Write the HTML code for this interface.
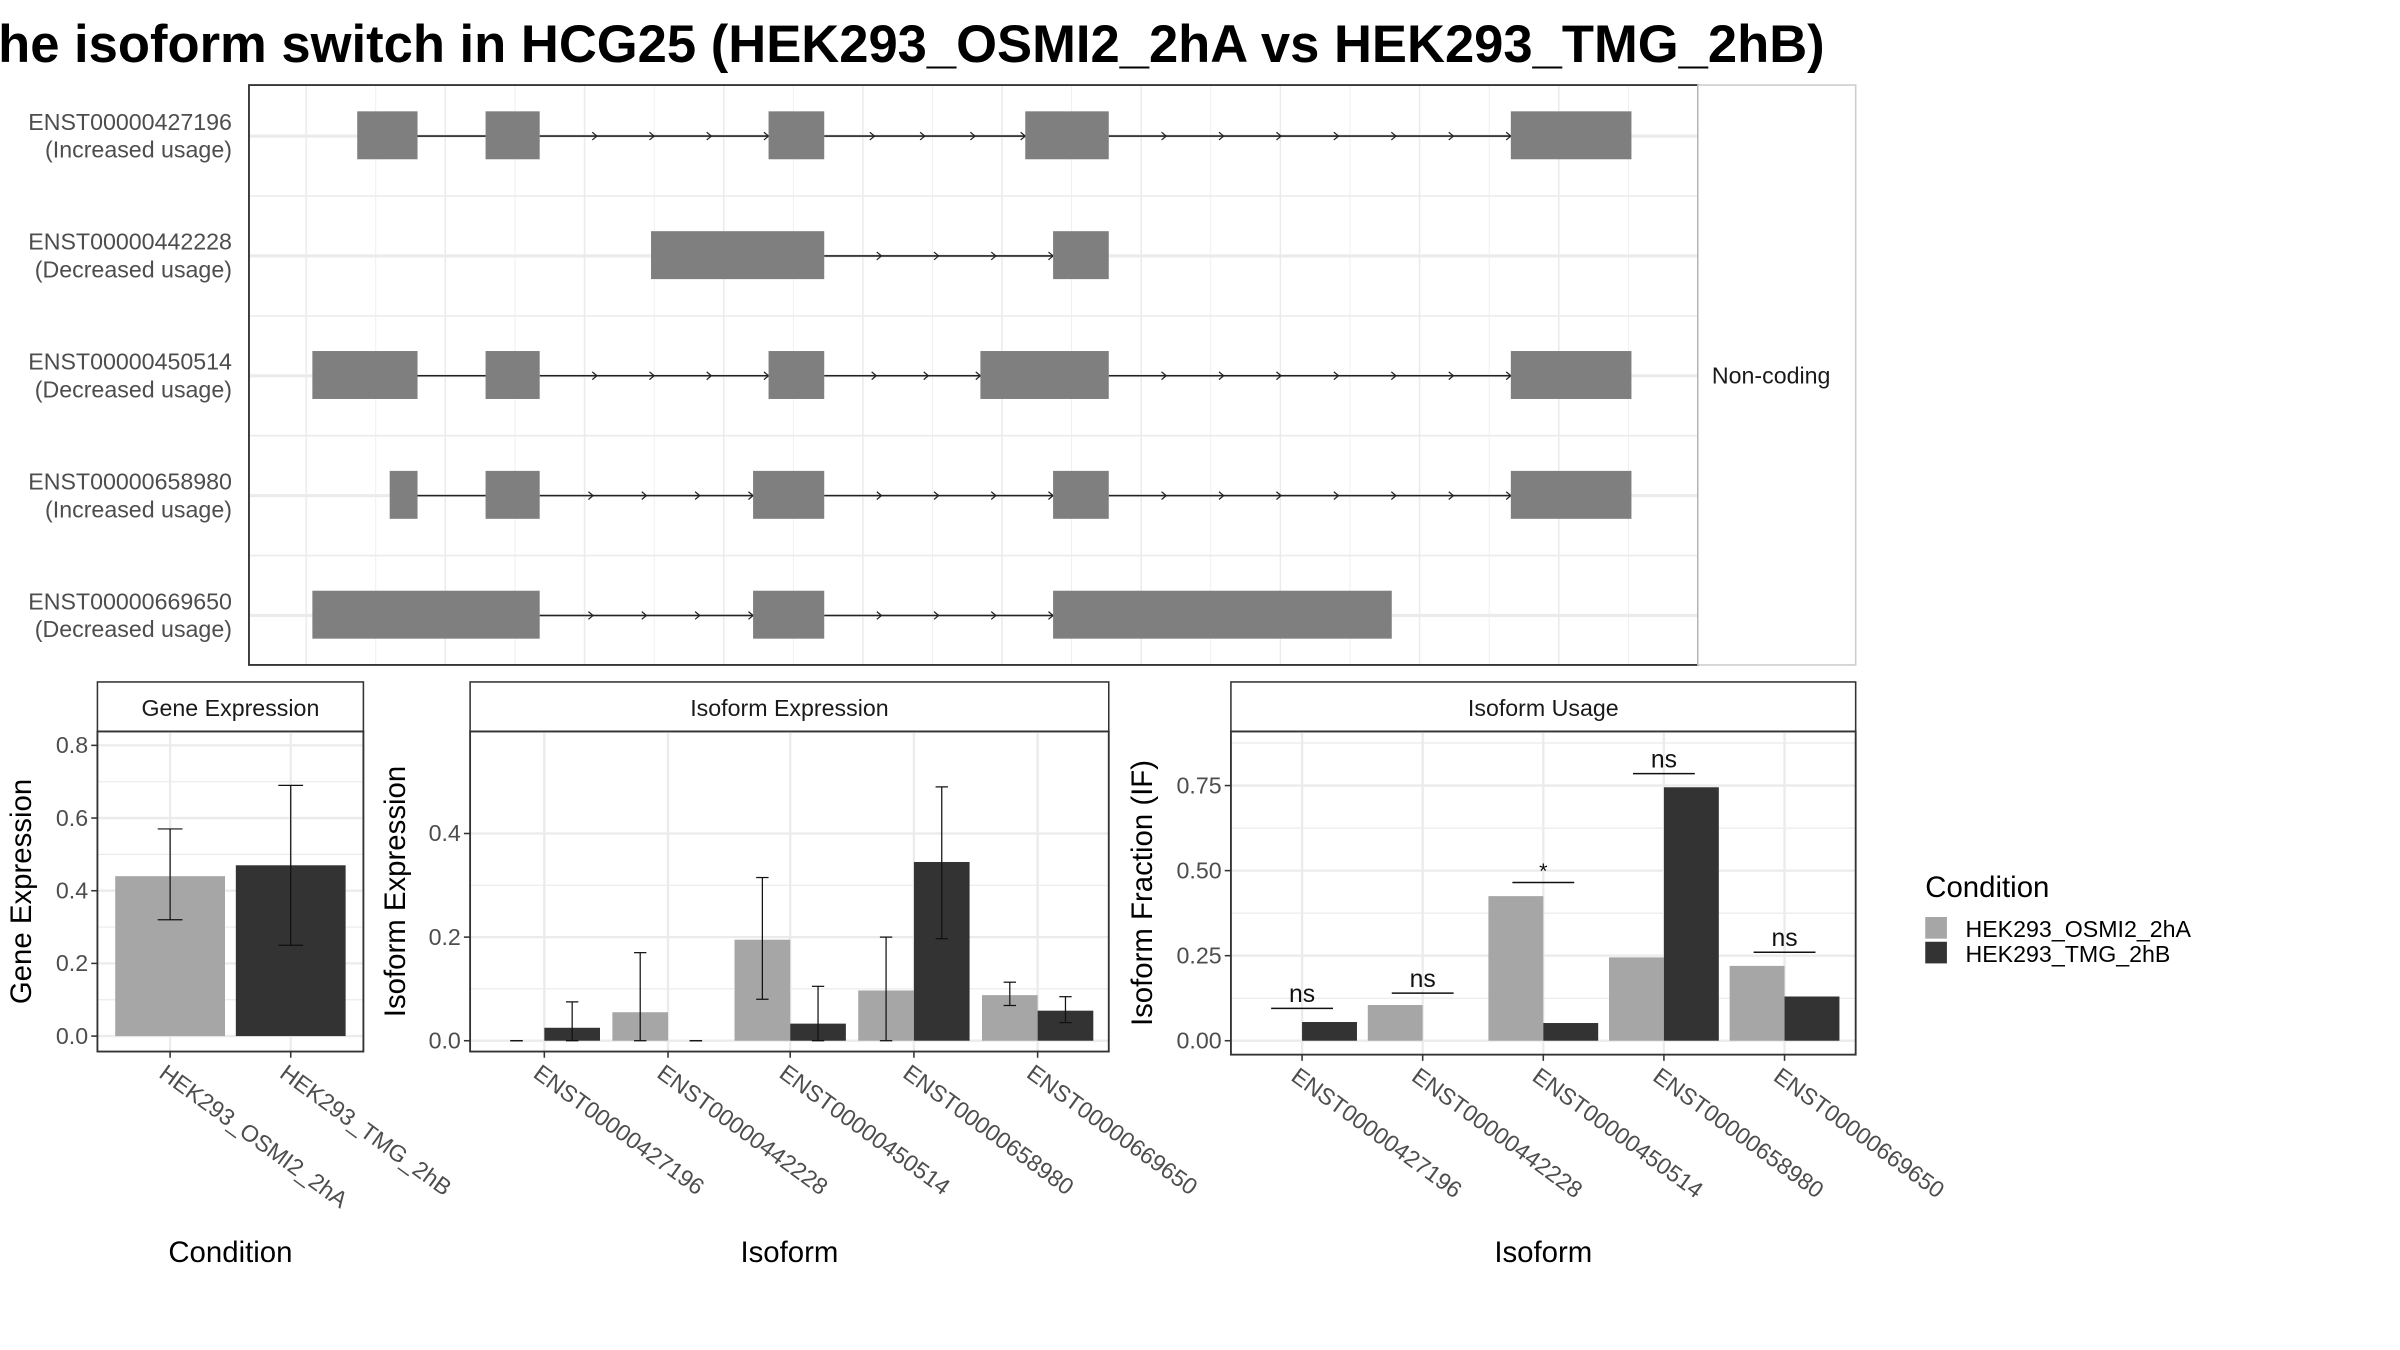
<!DOCTYPE html>
<html><head><meta charset="utf-8"><style>
html,body{margin:0;padding:0;background:#fff;}
svg{display:block;font-family:"Liberation Sans",sans-serif;}
</style></head><body>
<svg id="fig" width="2400" height="1350" viewBox="0 0 1552 873" xmlns="http://www.w3.org/2000/svg">
<rect x="0" y="0" width="1552" height="873" fill="#fff"/>
<defs><clipPath id="tclip"><rect x="0" y="0" width="1207" height="60"/></clipPath></defs>
<text x="-22" y="40" font-size="34" font-weight="bold" fill="#000" clip-path="url(#tclip)">The isoform switch in HCG25 (HEK293_OSMI2_2hA vs HEK293_TMG_2hB)</text>
<g id="g"></g>
</svg>
<script>
// ---- data ----
const isoforms = ["ENST00000427196","ENST00000442228","ENST00000450514","ENST00000658980","ENST00000669650"];
const usageLabels = ["(Increased usage)","(Decreased usage)","(Decreased usage)","(Increased usage)","(Decreased usage)"];
const exonStarts = [[231,314,497,663,977],[421,681],[202,314,497,634,977],[252,314,487,681,977],[202,487,681]];
const exonEnds   = [[270,349,533,717,1055],[533,717],[270,349,533,717,1055],[270,349,533,717,1055],[349,533,900]];
const conditions = ["HEK293_OSMI2_2hA","HEK293_TMG_2hB"];
const geneVals = [0.44,0.47];
const geneLo = [0.32,0.25];
const geneHi = [0.57,0.69];
const geneTicks = [0,0.2,0.4,0.6,0.8];
const isoExpA = [0,0.055,0.195,0.097,0.088];
const isoExpB = [0.025,0,0.033,0.345,0.058];
const isoExpALo = [0,0,0.08,0,0.068];
const isoExpAHi = [0,0.17,0.315,0.2,0.113];
const isoExpBLo = [0,0,0,0.197,0.035];
const isoExpBHi = [0.075,0,0.105,0.49,0.085];
const isoExpTicks = [0,0.2,0.4];
const ifA = [0,0.105,0.425,0.245,0.22];
const ifB = [0.055,0,0.052,0.745,0.13];
const ifSig = ["ns","ns","*","ns","ns"];
const ifSigY = [0.095,0.14,0.465,0.785,0.26];
const ifTicks = [0,0.25,0.5,0.75];
const ifTickLabels = ["0.00","0.25","0.50","0.75"];

const NS="http://www.w3.org/2000/svg";
const root=document.getElementById('g');
function el(tag,attrs,parent,txt){const e=document.createElementNS(NS,tag);for(const k in attrs)e.setAttribute(k,attrs[k]);if(txt!==undefined)e.textContent=txt;(parent||root).appendChild(e);return e;}
const LIGHT="#a6a6a6",DARK="#333333",GRID="#ebebeb";

// ---- transcript panel ----
const tp=el('g',{});


el('rect',{x:161,y:55,width:937,height:375,fill:'#fff'},tp);
for(let x=198;x<1098;x+=90){el('line',{x1:x,y1:55,x2:x,y2:430,stroke:GRID,'stroke-width':1},tp);}
for(let x=243;x<1098;x+=90){el('line',{x1:x,y1:55,x2:x,y2:430,stroke:GRID,'stroke-width':0.5},tp);}
const rowY=i=>88+i*77.5;
for(let i=0;i<5;i++){const y=rowY(i);el('line',{x1:161,y1:y,x2:1098,y2:y,stroke:GRID,'stroke-width':2},tp);
 if(i<4) el('line',{x1:161,y1:y+38.75,x2:1098,y2:y+38.75,stroke:GRID,'stroke-width':1},tp);}
isoforms.forEach((iso,i)=>{
 const y=rowY(i);const s=exonStarts[i],e=exonEnds[i];
 const lab=el('text',{x:150,y:y-4,'font-size':15,'text-anchor':'end',fill:'#4d4d4d'},tp,iso);
 
 
 el('text',{x:150,y:y+14,'font-size':15,'text-anchor':'end',fill:'#4d4d4d'},tp,usageLabels[i]);
 for(let k=0;k<s.length-1;k++){
  const a=e[k],b=s[k+1];
  el('line',{x1:a,y1:y,x2:b,y2:y,stroke:'#222','stroke-width':1},tp);
  const n=Math.max(1,Math.round((b-a)/37));
  if(b-a>60){for(let j=1;j<=n;j++){const ax=a+(b-a)*j/n;el('path',{d:`M${ax-3},${y-2.5} L${ax},${y} L${ax-3},${y+2.5}`,fill:'none',stroke:'#222','stroke-width':0.8},tp);}}
 }
 for(let k=0;k<s.length;k++){const r=el('rect',{x:s[k],y:y-16,width:e[k]-s[k],height:31,fill:'#7f7f7f'},tp);
  
  }
});
el('rect',{x:161,y:55,width:937,height:375,fill:'none',stroke:'#333','stroke-width':1.2},tp);
el('rect',{x:1098,y:55,width:102,height:375,fill:'#fff',stroke:'#ccc','stroke-width':1},tp);
const nc=el('text',{x:1107,y:248,'font-size':15,fill:'#1a1a1a'},tp,'Non-coding');



// ---- generic bar panel ----
function panel(o){
 const g=el('g',{});
 
 
 el('rect',{x:o.x0,y:441,width:o.x1-o.x0,height:32,fill:'#fff',stroke:'#333','stroke-width':1},g);
 el('text',{x:(o.x0+o.x1)/2,y:463,'font-size':15,'text-anchor':'middle',fill:'#1a1a1a'},g,o.strip);
 const y=v=>o.y0-(v)*o.sc;
 // grid
 o.ticks.forEach((t,i)=>{el('line',{x1:o.x0,x2:o.x1,y1:y(t),y2:y(t),stroke:GRID,'stroke-width':1.5},g);
   if(i<o.ticks.length-1){const m=(t+o.ticks[i+1])/2;el('line',{x1:o.x0,x2:o.x1,y1:y(m),y2:y(m),stroke:GRID,'stroke-width':0.8},g);}});
 if(o.extraMinor!==undefined) el('line',{x1:o.x0,x2:o.x1,y1:y(o.extraMinor),y2:y(o.extraMinor),stroke:GRID,'stroke-width':0.8},g);
 o.centers.forEach(c=>el('line',{x1:c,x2:c,y1:473,y2:o.yb,stroke:GRID,'stroke-width':1.5},g));
 return {g,y};
}
function tickAxis(o,P){
 o.ticks.forEach((t,i)=>{const ty=P.y(t);el('line',{x1:o.x0-4,x2:o.x0,y1:ty,y2:ty,stroke:'#333'},P.g);
  const tl=el('text',{x:o.x0-6,y:ty+5,'font-size':15,'text-anchor':'end',fill:'#4d4d4d'},P.g,o.tickLabels?o.tickLabels[i]:t.toFixed(1));
  
  });
 o.centers.forEach((c,i)=>{el('line',{x1:c,x2:c,y1:o.yb,y2:o.yb+4,stroke:'#333'},P.g);
  const tx=el('text',{x:c-8,y:o.yb+16,'font-size':15,fill:'#4d4d4d',transform:`rotate(36 ${c-8} ${o.yb+16})`},P.g,o.labels[i]);
  
  });
 el('rect',{x:o.x0,y:473,width:o.x1-o.x0,height:o.yb-473,fill:'none',stroke:'#333','stroke-width':1.2},P.g);
 const yt=el('text',{x:0,y:0,'font-size':19,'text-anchor':'middle',fill:'#000',transform:`translate(${o.ytx},${(473+o.yb)/2}) rotate(-90)`},P.g,o.ytitle);
 
 
 const xt=el('text',{x:(o.x0+o.x1)/2,y:816,'font-size':19,'text-anchor':'middle',fill:'#000'},P.g,o.xtitle);
 
 
}
function errbar(g,x,y1,y2,w){el('line',{x1:x,x2:x,y1:y1,y2:y2,stroke:'#111','stroke-width':0.8},g);
 el('line',{x1:x-w,x2:x+w,y1:y1,y2:y1,stroke:'#111','stroke-width':0.8},g);
 el('line',{x1:x-w,x2:x+w,y1:y2,y2:y2,stroke:'#111','stroke-width':0.8},g);}

// Gene expression
{const o={name:'gene-expression-panel',strip:'Gene Expression',x0:63,x1:235,y0:670,sc:235,yb:680,ticks:geneTicks,centers:[110,188],labels:conditions,ytitle:'Gene Expression',ytx:20,xtitle:'Condition'};
 const P=panel(o);
 geneVals.forEach((v,i)=>{const c=o.centers[i];
  const b=el('rect',{x:c-35.5,y:P.y(v),width:71,height:P.y(0)-P.y(v),fill:i?DARK:LIGHT},P.g);
  
  
  errbar(P.g,c,P.y(geneLo[i]),P.y(geneHi[i]),8);});
 tickAxis(o,P);}
// Isoform expression
{const o={name:'isoform-expression-panel',strip:'Isoform Expression',x0:304,x1:717,y0:673,sc:335,yb:680,ticks:isoExpTicks,centers:[352,432,511,591,671],labels:isoforms,ytitle:'Isoform Expression',ytx:262,xtitle:'Isoform'};
 const P=panel(o);
 isoforms.forEach((iso,i)=>{const c=o.centers[i];
  const a=el('rect',{x:c-36,y:P.y(isoExpA[i]),width:36,height:P.y(0)-P.y(isoExpA[i]),fill:LIGHT},P.g);
  
  
  const b=el('rect',{x:c,y:P.y(isoExpB[i]),width:36,height:P.y(0)-P.y(isoExpB[i]),fill:DARK},P.g);
  
  
  errbar(P.g,c-18,P.y(isoExpALo[i]),P.y(isoExpAHi[i]),4);
  errbar(P.g,c+18,P.y(isoExpBLo[i]),P.y(isoExpBHi[i]),4);});
 tickAxis(o,P);}
// Isoform usage
{const o={name:'isoform-usage-panel',strip:'Isoform Usage',x0:796,x1:1200,y0:673,sc:220,yb:682,ticks:ifTicks,tickLabels:ifTickLabels,extraMinor:0.875,centers:[842,920,998,1076,1154],labels:isoforms,ytitle:'Isoform Fraction (IF)',ytx:745,xtitle:'Isoform'};
 const P=panel(o);
 isoforms.forEach((iso,i)=>{const c=o.centers[i];
  const a=el('rect',{x:c-35.5,y:P.y(ifA[i]),width:35.5,height:P.y(0)-P.y(ifA[i]),fill:LIGHT},P.g);
  
  
  const b=el('rect',{x:c,y:P.y(ifB[i]),width:35.5,height:P.y(0)-P.y(ifB[i]),fill:DARK},P.g);
  
  
  const sy=P.y(ifSigY[i]);
  el('line',{x1:c-20,x2:c+20,y1:sy,y2:sy,stroke:'#111','stroke-width':1},P.g);
  const st=el('text',{x:c,y:ifSig[i]==='*'?sy-3:sy-4,'font-size':ifSig[i]==='*'?14:16,'text-anchor':'middle',fill:'#111'},P.g,ifSig[i]);
  
  });
 tickAxis(o,P);}

// legend
const lg=el('g',{});


el('text',{x:1245,y:580,'font-size':19,fill:'#000'},lg,'Condition');
conditions.forEach((c,i)=>{
 const k=el('rect',{x:1245,y:593+i*16,width:14,height:14,fill:i?DARK:LIGHT},lg);
 
 
 const t=el('text',{x:1271,y:606+i*16,'font-size':15,fill:'#000'},lg,c);
 
 
});
</script>
</body></html>
